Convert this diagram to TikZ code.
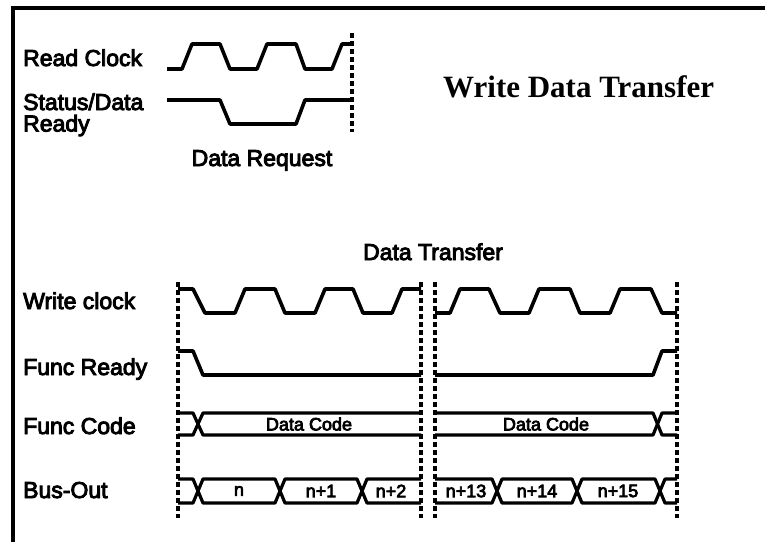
\documentclass[tikz,border=0pt]{standalone}
\usepackage{fontspec}
\setmainfont{Liberation Sans}
\newfontfamily\lblfont[FakeBold=4]{Liberation Sans}
\newfontfamily\titlefont{Liberation Serif}
\begin{document}
\begin{tikzpicture}[x=1pt,y=-1pt,
  sig/.style={line width=3.6pt,line join=round},
  busline/.style={line width=3.2pt,line join=round},
  frame/.style={line width=3.4pt},
  vmark/.style={line width=3.2pt,dash pattern=on 4.5pt off 3.5pt},
  lbl/.style={inner sep=0pt,font=\lblfont\fontsize{23}{23}\selectfont},
  blbl/.style={inner sep=0pt,anchor=center,font=\lblfont\fontsize{18}{18}\selectfont}]
\useasboundingbox (0,0) rectangle (765,542);
% frame (top and left only)
\draw[frame] (13,542) -- (13,8) -- (765,8);
% ---------- upper diagram ----------
\node[lbl,anchor=base west] (rc) at (23,66) {Read Clock};
\node[lbl,anchor=base west] (sd1) at (23,110) {Status/Data};
\node[lbl,anchor=base west] (sd2) at (23,131.5) {Ready};
\node[lbl,anchor=base] (dreq) at (262,166) {Data Request};
\node[inner sep=0pt,anchor=base west,font=\titlefont\bfseries\fontsize{31}{31}\selectfont] (title) at (443,97) {Write Data Transfer};
\draw[sig] (167,69) -- (182,69) -- (192,44) -- (220,44) -- (230,69) -- (257,69) -- (267,44) -- (296,44) -- (305,69) -- (332,69) -- (342,44) -- (352,44);
\draw[sig] (167,100) -- (220,100) -- (230,124) -- (296,124) -- (305,100) -- (352,100);
\draw[vmark] (352,33) -- (352,132);
% ---------- lower diagram ----------
\node[lbl,anchor=base] (dtr) at (433,260) {Data Transfer};
\node[lbl,anchor=base west] (wc) at (23,309) {Write clock};
\node[lbl,anchor=base west] (fr) at (23,375) {Func Ready};
\node[lbl,anchor=base west] (fc) at (23,434) {Func Code};
\node[lbl,anchor=base west] (bo) at (23,498) {Bus-Out};
% dashed markers
\foreach \x in {178,421,435,677} \draw[vmark] (\x,282) -- (\x,518);
% write clock
\draw[sig] (178,289) -- (193,289) -- (205,313) -- (235,313) -- (245,289) -- (275,289) -- (285,313) -- (315,313) -- (325,289) -- (353,289) -- (363,313) -- (392,313) -- (402,289) -- (421,289);
\draw[sig] (435,313) -- (450,313) -- (460,289) -- (489,289) -- (500,313) -- (529,313) -- (539,289) -- (570,289) -- (580,313) -- (610,313) -- (620,289) -- (651,289) -- (662,313) -- (677,313);
% func ready
\draw[sig] (178,351) -- (193,351) -- (203,375) -- (421,375);
\draw[sig] (435,375) -- (653,375) -- (662,351) -- (677,351);
% func code
\draw[busline] (178,413) -- (193,413) -- (203,435) -- (421,435);
\draw[busline] (178,435) -- (193,435) -- (203,413) -- (421,413);
\draw[busline] (435,413) -- (653,413) -- (662,435) -- (677,435);
\draw[busline] (435,435) -- (653,435) -- (662,413) -- (677,413);
\node[blbl] (dc1) at (309,424) {Data Code};
\node[blbl] (dc2) at (546,424) {Data Code};
% bus out
\draw[busline] (178,479) -- (193,479) -- (203,503) -- (275,503) -- (285,479) -- (357,479) -- (367,503) -- (421,503);
\draw[busline] (178,503) -- (193,503) -- (203,479) -- (275,479) -- (285,503) -- (357,503) -- (367,479) -- (421,479);
\draw[busline] (435,479) -- (492,479) -- (502,503) -- (572,503) -- (582,479) -- (655,479) -- (665,503) -- (677,503);
\draw[busline] (435,503) -- (492,503) -- (502,479) -- (572,479) -- (582,503) -- (655,503) -- (665,479) -- (677,479);
\node[blbl] (b1) at (239,491) {n};
\node[blbl] (b2) at (321,491) {n+1};
\node[blbl] (b3) at (391,491) {n+2};
\node[blbl] (b4) at (466,491) {n+13};
\node[blbl] (b5) at (537,491) {n+14};
\node[blbl] (b6) at (618,491) {n+15};
\end{tikzpicture}
\end{document}
